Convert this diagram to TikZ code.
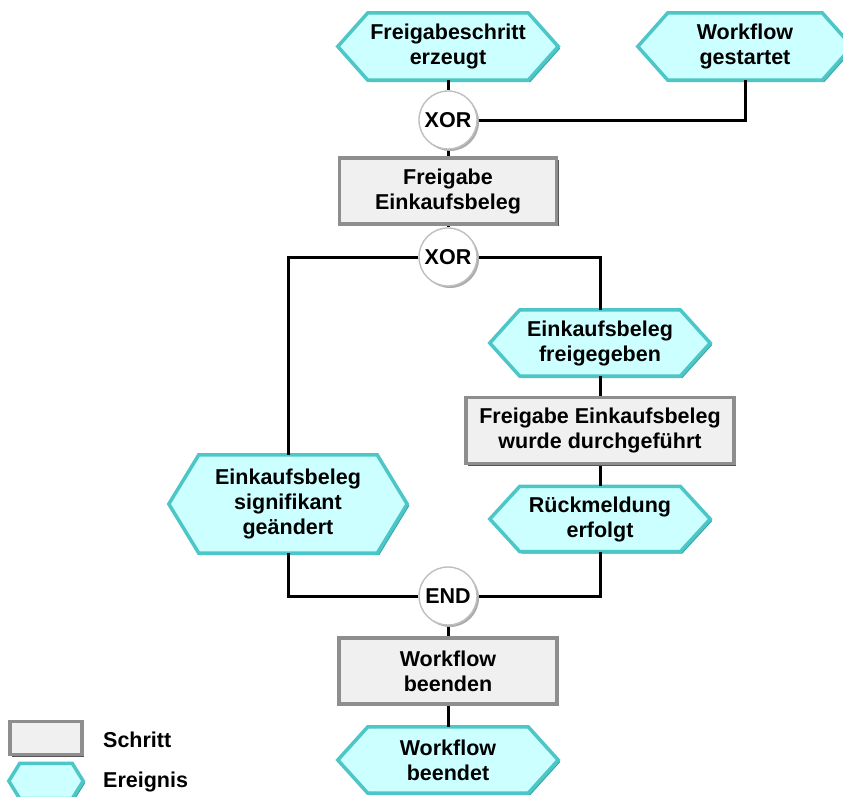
\documentclass[tikz,border=0pt]{standalone}
\usepackage{fontspec}
\setmainfont{Liberation Sans}
\usetikzlibrary{calc,backgrounds,shadows}
\definecolor{evfill}{HTML}{CCFFFF}
\definecolor{evline}{HTML}{4CC6C6}
\definecolor{evdark}{HTML}{36A8A8}
\definecolor{stfill}{HTML}{F0F0F0}
\definecolor{stline}{HTML}{8E8E8E}
\definecolor{stdark}{HTML}{555555}
\newcommand\hexshape[2]{%
  \fill[evdark] ($(#1.west)+(2,2)$) -- ($(#1.north west)+(#2+2,2)$) -- ($(#1.north east)+(-#2+2,2)$) -- ($(#1.east)+(2,2)$) -- ($(#1.south east)+(-#2+2,2)$) -- ($(#1.south west)+(#2+2,2)$) -- cycle;
  \filldraw[fill=evfill, draw=evline, line width=3.5pt, line join=miter] (#1.west) -- ($(#1.north west)+(#2,0)$) -- ($(#1.north east)+(-#2,0)$) -- (#1.east) -- ($(#1.south east)+(-#2,0)$) -- ($(#1.south west)+(#2,0)$) -- cycle;
}
\begin{document}
\begin{tikzpicture}[x=1pt,y=-1pt,
  lbl/.style={font=\fontsize{21.5}{25}\selectfont\bfseries, align=center, inner sep=0pt},
  eventbox/.style n args={2}{lbl, rectangle, minimum width=#1, minimum height=#2},
  stepbox/.style n args={2}{lbl, rectangle, minimum width=#1, minimum height=#2, fill=stfill, draw=stline, line width=3.5pt,
     drop shadow={shadow xshift=2pt, shadow yshift=-2pt, fill=stdark, opacity=1}},
  gate/.style={lbl, circle, minimum size=58pt, fill=white, draw=gray!50, line width=1.4pt,
     drop shadow={shadow xshift=2pt, shadow yshift=-2pt, fill=gray!65, opacity=1}},
  conn/.style={line width=3pt, black}
]
\useasboundingbox (0,0) rectangle (843,796);

% events
\node[eventbox={220}{67}] (e1) at (448,46.5) {Freigabeschritt\\erzeugt};
\node[eventbox={214}{67}] (e2) at (745,46.5) {Workflow\\gestartet};
\node[eventbox={220}{66}] (e3) at (600,343) {Einkaufsbeleg\\freigegeben};
\node[eventbox={220}{65}] (e4) at (600,519) {Rückmeldung\\erfolgt};
\node[eventbox={238}{98}] (e5) at (288,504) {Einkaufsbeleg\\signifikant\\geändert};
\node[eventbox={220}{66}] (e6) at (448,760) {Workflow\\beendet};
\node[eventbox={74}{35}] (lge) at (46,781) {};

\begin{pgfonlayer}{background}
\hexshape{e1}{30}
\hexshape{e2}{30}
\hexshape{e3}{30}
\hexshape{e4}{30}
\hexshape{e5}{30}
\hexshape{e6}{30}
\hexshape{lge}{11}
\end{pgfonlayer}

% steps
\node[stepbox={217}{66}] (s1) at (448,191) {Freigabe\\Einkaufsbeleg};
\node[stepbox={268}{66}] (s2) at (600,430.5) {Freigabe Einkaufsbeleg\\wurde durchgeführt};
\node[stepbox={218}{66}] (s3) at (448,671) {Workflow\\beenden};
\node[stepbox={72}{33}] (lgs) at (46,738) {};

% gates
\node[gate] (x1) at (448,120) {XOR};
\node[gate] (x2) at (448,257) {XOR};
\node[gate] (x3) at (448,596) {END};

% legend texts
\node[lbl, anchor=west] (lgst) at (103,740) {Schritt};
\node[lbl, anchor=west] (lget) at (103,782) {Ereignis};

% connectors
\begin{pgfonlayer}{background}
\draw[conn] (e1.south) -- (x1.north);
\draw[conn] (x1.east) -| (e2.south);
\draw[conn] (x1.south) -- (s1.north);
\draw[conn] (s1.south) -- (x2.north);
\draw[conn] (x2.west) -| (e5.north);
\draw[conn] (x2.east) -| (e3.north);
\draw[conn] (e3.south) -- (s2.north);
\draw[conn] (s2.south) -- (e4.north);
\draw[conn] (e5.south) |- (x3.west);
\draw[conn] (e4.south) |- (x3.east);
\draw[conn] (x3.south) -- (s3.north);
\draw[conn] (s3.south) -- (e6.north);
\end{pgfonlayer}
\end{tikzpicture}
\end{document}
